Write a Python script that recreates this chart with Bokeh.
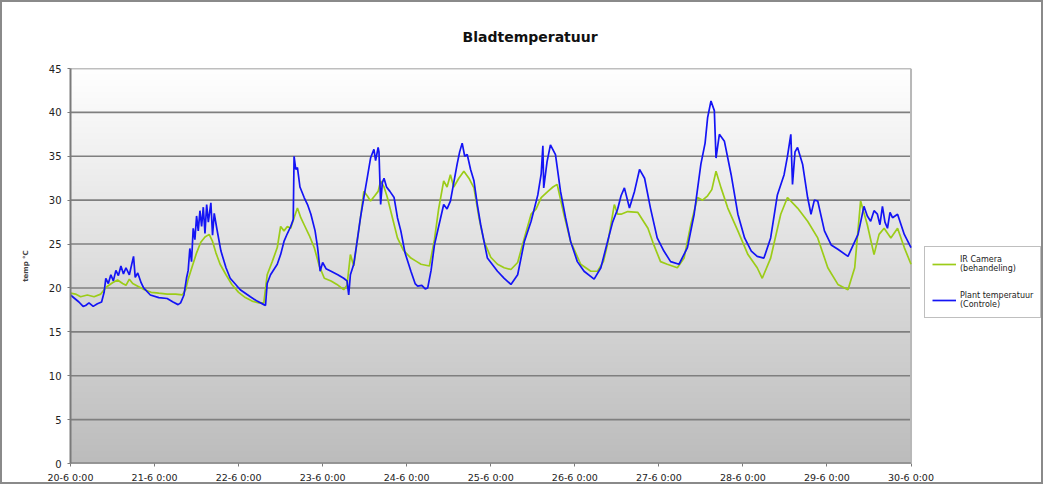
import numpy as np
from bokeh.plotting import figure
from bokeh.models import Range1d, FixedTicker, Legend, LegendItem
from bokeh.embed import file_html
from bokeh.resources import INLINE

# ---------------- data ----------------
tick_labels = ["20-6 0:00", "21-6 0:00", "22-6 0:00", "23-6 0:00", "24-6 0:00",
               "25-6 0:00", "26-6 0:00", "27-6 0:00", "28-6 0:00", "29-6 0:00",
               "30-6 0:00"]
y_ticks = [0, 5, 10, 15, 20, 25, 30, 35, 40, 45]

# days since 20-6 0:00
plant_days = [0.00, 0.05, 0.10, 0.15, 0.18, 0.22, 0.27, 0.32, 0.37, 0.40, 0.42, 0.45, 0.48,
              0.51, 0.54, 0.57, 0.60, 0.63, 0.66, 0.70, 0.75, 0.77, 0.80, 0.84, 0.87, 0.95,
              1.05, 1.15, 1.22, 1.28, 1.31, 1.35, 1.38, 1.40, 1.42, 1.44, 1.46, 1.48, 1.50,
              1.52, 1.54, 1.56, 1.58, 1.60, 1.62, 1.64, 1.67, 1.69, 1.71, 1.74, 1.79, 1.85,
              1.90, 2.02, 2.14, 2.22, 2.30, 2.32, 2.34, 2.38, 2.46, 2.50, 2.54, 2.58, 2.62,
              2.65, 2.66, 2.68, 2.70, 2.73, 2.78, 2.82, 2.86, 2.91, 2.94, 2.97, 3.00, 3.04,
              3.10, 3.18, 3.25, 3.29, 3.31, 3.33, 3.37, 3.41, 3.45, 3.49, 3.53, 3.57, 3.61,
              3.63, 3.66, 3.67, 3.69, 3.71, 3.73, 3.76, 3.80, 3.85, 3.89, 3.93, 3.98, 4.05,
              4.10, 4.13, 4.18, 4.22, 4.25, 4.29, 4.33, 4.38, 4.44, 4.48, 4.52, 4.56, 4.60,
              4.63, 4.66, 4.69, 4.72, 4.76, 4.80, 4.84, 4.88, 4.96, 5.08, 5.16, 5.24, 5.32,
              5.40, 5.48, 5.56, 5.60, 5.62, 5.63, 5.67, 5.71, 5.77, 5.83, 5.89, 5.95, 6.03,
              6.11, 6.23, 6.31, 6.39, 6.45, 6.51, 6.55, 6.59, 6.65, 6.71, 6.77, 6.83, 6.90,
              6.98, 7.06, 7.14, 7.24, 7.34, 7.42, 7.50, 7.55, 7.58, 7.62, 7.66, 7.68, 7.72,
              7.78, 7.86, 7.94, 8.02, 8.10, 8.17, 8.25, 8.33, 8.41, 8.49, 8.53, 8.57, 8.59,
              8.62, 8.65, 8.71, 8.77, 8.81, 8.85, 8.89, 8.97, 9.05, 9.13, 9.25, 9.37, 9.44,
              9.48, 9.52, 9.56, 9.60, 9.63, 9.66, 9.69, 9.72, 9.75, 9.78, 9.84, 9.92, 10.00]
plant_temp = [19.2, 18.8, 18.4, 17.9, 18.0, 18.3, 17.9, 18.2, 18.4, 19.5, 21.1, 20.5, 21.5,
              20.8, 22.0, 21.4, 22.5, 21.6, 22.3, 21.5, 23.6, 21.2, 21.7, 20.6, 20.0, 19.2,
              18.9, 18.8, 18.4, 18.1, 18.3, 19.2, 21.1, 22.0, 24.5, 23.0, 26.8, 25.5, 28.2,
              26.5, 28.8, 27.0, 29.2, 26.2, 29.5, 27.5, 29.7, 26.0, 28.5, 26.8, 24.2, 22.3,
              21.1, 19.8, 19.0, 18.5, 18.1, 18.0, 20.5, 21.5, 22.7, 23.8, 25.3, 26.2, 27.0,
              27.8, 35.0, 33.5, 33.7, 31.5, 30.3, 29.5, 28.4, 26.5, 24.6, 21.9, 22.9, 22.2,
              21.9, 21.5, 21.1, 20.8, 19.2, 21.5, 22.7, 25.3, 28.0, 30.3, 32.5, 34.8, 35.8,
              34.5, 36.0, 35.5, 29.5, 32.0, 32.5, 31.5, 31.0, 30.3, 28.0, 26.5, 24.0, 21.9,
              20.5, 20.2, 20.3, 19.9, 20.0, 22.0, 24.9, 27.0, 29.5, 29.0, 29.9, 32.0, 34.1,
              35.5, 36.5, 35.0, 35.2, 33.5, 32.2, 29.5, 27.2, 23.4, 21.9, 21.1, 20.4, 21.5,
              25.3, 27.6, 30.6, 33.0, 36.2, 31.4, 34.4, 36.3, 35.2, 31.0, 28.0, 25.3, 23.0,
              21.9, 21.0, 22.3, 25.3, 27.5, 29.0, 30.5, 31.4, 29.1, 31.0, 33.5, 32.5, 29.1,
              25.7, 24.2, 23.0, 22.7, 24.6, 28.4, 34.1, 36.5, 39.4, 41.3, 40.2, 34.8, 37.5,
              36.7, 32.9, 28.4, 25.7, 24.2, 23.6, 23.4, 25.7, 30.6, 32.9, 35.0, 37.5, 31.8,
              35.5, 36.0, 34.1, 30.3, 28.4, 30.0, 29.9, 26.5, 24.9, 24.4, 23.6, 26.1, 29.3,
              28.2, 27.6, 28.8, 28.4, 27.2, 29.3, 27.5, 26.8, 28.6, 28.0, 28.4, 26.1, 24.6]

ir_days = [0.00, 0.06, 0.12, 0.20, 0.28, 0.36, 0.40, 0.44, 0.50, 0.56, 0.62, 0.66, 0.70,
           0.74, 0.80, 0.88, 0.96, 1.05, 1.15, 1.25, 1.33, 1.37, 1.40, 1.45, 1.50, 1.55,
           1.60, 1.65, 1.69, 1.73, 1.78, 1.85, 1.92, 2.00, 2.08, 2.16, 2.24, 2.30, 2.34,
           2.40, 2.46, 2.50, 2.54, 2.58, 2.62, 2.66, 2.70, 2.74, 2.78, 2.84, 2.90, 2.96,
           3.02, 3.10, 3.17, 3.25, 3.29, 3.33, 3.37, 3.41, 3.45, 3.49, 3.53, 3.57, 3.62,
           3.66, 3.69, 3.73, 3.77, 3.83, 3.89, 3.96, 4.05, 4.12, 4.17, 4.27, 4.33, 4.38,
           4.44, 4.48, 4.52, 4.56, 4.62, 4.68, 4.74, 4.80, 4.86, 4.92, 5.00, 5.08, 5.16,
           5.24, 5.32, 5.40, 5.48, 5.54, 5.60, 5.68, 5.74, 5.79, 5.87, 5.95, 6.07, 6.19,
           6.27, 6.34, 6.39, 6.47, 6.51, 6.55, 6.63, 6.75, 6.87, 6.94, 7.02, 7.10, 7.22,
           7.30, 7.38, 7.46, 7.52, 7.58, 7.63, 7.68, 7.74, 7.82, 7.94, 8.06, 8.17, 8.23,
           8.33, 8.45, 8.53, 8.65, 8.77, 8.89, 9.01, 9.13, 9.25, 9.33, 9.40, 9.48, 9.56,
           9.62, 9.68, 9.76, 9.84, 9.92, 10.00]
ir_temp = [19.4, 19.3, 19.0, 19.2, 19.0, 19.3, 19.8, 20.2, 20.6, 20.9, 20.5, 20.3, 21.0,
           20.5, 20.2, 19.8, 19.5, 19.4, 19.3, 19.3, 19.2, 19.8, 21.0, 22.5, 24.0, 25.2,
           25.8, 26.1, 25.3, 24.0, 22.7, 21.5, 20.4, 19.5, 18.9, 18.5, 18.3, 18.3, 21.5,
           23.0, 24.6, 27.0, 26.5, 27.0, 26.8, 28.0, 29.1, 28.0, 27.2, 26.0, 24.6, 22.5,
           21.1, 20.8, 20.4, 19.8, 20.3, 23.8, 22.5, 25.3, 28.0, 31.0, 30.5, 29.9, 30.5,
           31.0, 32.2, 31.5, 30.3, 28.0, 25.7, 24.3, 23.4, 23.0, 22.7, 22.5, 25.5, 29.0,
           32.2, 31.5, 32.9, 31.5, 32.5, 33.3, 32.5, 31.4, 28.0, 25.3, 23.5, 22.7, 22.3,
           22.1, 22.9, 25.7, 28.4, 29.0, 30.3, 31.0, 31.5, 31.8, 28.4, 25.3, 22.7, 21.9,
           21.9, 23.0, 25.0, 29.5, 28.4, 28.4, 28.7, 28.6, 26.8, 24.9, 23.0, 22.7, 22.3,
           23.4, 27.2, 30.3, 30.0, 30.5, 31.2, 33.3, 31.4, 29.1, 26.5, 23.8, 22.3, 21.1,
           23.4, 28.4, 30.3, 29.1, 27.6, 25.7, 22.3, 20.4, 19.8, 22.3, 29.9, 27.2, 23.8,
           26.1, 26.8, 25.7, 26.8, 24.6, 22.7]

series_names = ["IR Camera\n(behandeling)", "Plant temperatuur\n(Controle)"]
series_colors = ["#9ccc18", "#1414f5"]

FONT = "DejaVu Sans"
X_END = len(tick_labels) - 1          # 30-6 0:00 -> 10 days
Y_END = y_ticks[-1]

# the frame is extended to the right so that the legend sits inside it
p = figure(width=1043, height=484, output_backend="svg", toolbar_location=None,
           x_range=Range1d(0, 11.6), y_range=Range1d(0, Y_END),
           min_border_left=68, min_border_right=0, min_border_top=66,
           min_border_bottom=23)
p.styles = {"border": "2px solid #8a8a8a"}
p.background_fill_color = "white"
p.outline_line_color = None

# plot-area gradient (white at top -> grey at bottom)
n = 200
lv = np.linspace(188, 255, n).astype(np.uint8)
img = np.empty((n, 1), dtype=np.uint32)
view = img.view(dtype=np.uint8).reshape((n, 1, 4))
view[:, 0, 0] = lv
view[:, 0, 1] = lv
view[:, 0, 2] = lv
view[:, 0, 3] = 255
p.image_rgba(image=[img], x=0, y=0, dw=X_END, dh=Y_END)

# horizontal grid lines limited to the plot area, and its light right edge
p.segment(x0=[0] * len(y_ticks), y0=y_ticks, x1=[X_END] * len(y_ticks), y1=y_ticks,
          line_color="#7f7f7f", line_width=1.6)
p.segment(x0=[X_END], y0=[0], x1=[X_END], y1=[Y_END], line_color="#b8b8b8", line_width=2)
p.segment(x0=[0], y0=[0], x1=[X_END], y1=[0], line_color="#7a7a7a", line_width=2)

r_ir = p.line(ir_days, ir_temp, line_color=series_colors[0], line_width=1.7)
r_pl = p.line(plant_days, plant_temp, line_color=series_colors[1], line_width=1.7)

# title
p.title.text = "Bladtemperatuur"
p.title.text_font = FONT
p.title.text_font_size = "14px"
p.title.text_font_style = "bold"
p.title.align = "left"
p.title.offset = 392
p.title.standoff = 48
p.title.text_color = "#111111"

# axes
p.xaxis.ticker = FixedTicker(ticks=list(range(len(tick_labels))))
p.xaxis.major_label_overrides = {i: t for i, t in enumerate(tick_labels)}
p.yaxis.ticker = FixedTicker(ticks=y_ticks)
for ax in (p.xaxis, p.yaxis):
    ax.axis_line_color = "#7a7a7a"
    ax.axis_line_width = 2
    ax.major_tick_line_color = "#7a7a7a"
    ax.major_tick_in = 0
    ax.major_tick_out = 3
    ax.minor_tick_line_color = None
    ax.major_label_text_font = FONT
    ax.major_label_text_color = "#222222"
p.xaxis.axis_line_color = None
p.xaxis.major_label_text_font_size = "9.5px"
p.yaxis.major_label_text_font_size = "10px"
p.xaxis.major_label_standoff = 5
p.yaxis.major_label_standoff = 6
p.yaxis.axis_label = "temp °C"
p.yaxis.axis_label_text_font = FONT
p.yaxis.axis_label_text_font_size = "7px"
p.yaxis.axis_label_text_font_style = "bold"
p.yaxis.axis_label_standoff = 16

p.xgrid.visible = False
p.ygrid.visible = False

legend = Legend(items=[LegendItem(label=series_names[0], renderers=[r_ir]),
                       LegendItem(label=series_names[1], renderers=[r_pl])],
                location=(854, 145))
legend.label_text_font = FONT
legend.label_text_font_size = "8px"
legend.label_text_color = "#222222"
legend.border_line_color = "#808080"
legend.border_line_width = 1
legend.glyph_width = 24
legend.glyph_height = 20
legend.label_standoff = 4
legend.spacing = 16
legend.padding = 7
legend.margin = 0
legend.background_fill_alpha = 1
p.add_layout(legend)

open("out.html", "w").write(file_html(p, INLINE))
